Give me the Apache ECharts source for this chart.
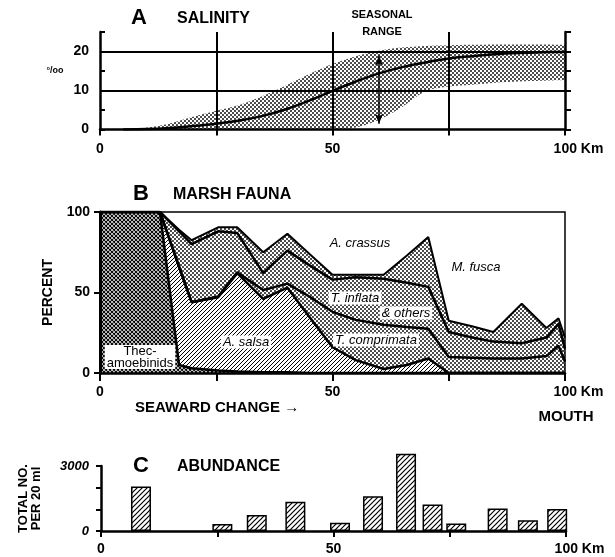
<!DOCTYPE html>
<html>
<head>
<meta charset="utf-8">
<script src="https://cdn.jsdelivr.net/npm/echarts@6/dist/echarts.min.js"></script>
<style>
html, body { margin: 0; padding: 0; background: #fff; }
#main { width: 615px; height: 557px; }
</style>
</head>
<body>
<div id="main"></div>
<script>
// A - salinity (per mille) along the estuary, km seaward
var salKm = [5, 10, 15, 20, 25, 30, 35, 40, 45, 50, 55, 60, 65, 70, 75, 80, 85, 90, 95, 100];
var salMean = [0, 0.1, 0.4, 0.9, 1.5, 2.3, 3.5, 5.2, 7.4, 9.9, 12.3, 14.4, 16, 17.2, 18.2, 18.8, 19.3, 19.6, 19.8, 19.9];
var rangeKm = [7, 13, 20, 25, 30, 35, 40, 45, 50, 55, 60, 65, 70, 75, 80, 85, 90, 95, 100];
var rangeHigh = [0, 1, 3.3, 4.8, 6.3, 8.6, 11.3, 14.2, 16.8, 18.8, 20.2, 21, 21.4, 21.6, 21.7, 21.8, 21.8, 21.8, 21.7];
var rangeLow = [0, 0, 0, 0, 0, 0, 0, 0, 0, 0.5, 2.5, 5.8, 9.8, 11, 11.5, 12, 12.3, 12.5, 12.7];
var arrowKm = 60;
var arrowEnds = [1.5, 19];
var salLines = [10, 20];
var kmLines = [25, 50, 75];

// B - marsh fauna, percent per group (bottom to top)
var faunaKm = [0, 12.9, 17, 19.7, 25.4, 29.5, 35.1, 40.3, 45, 50, 55, 61, 66, 70.6, 75, 80, 84.6, 90.7, 96, 98.6, 100];
var thec = [100, 100, 5, 3, 1.5, 1, 0.5, 0.5, 0, 0, 0, 0, 0, 0, 0, 0, 0, 0, 0, 0, 0];
var salsa = [0, 0, 61, 41, 45.5, 61, 45.5, 52.5, 35, 16, 8, 2.5, 5, 9, 0, 0, 0, 0, 0, 0, 0];
var comprimata = [0, 0, 0, 0, 0.5, 0.5, 5.5, 2.5, 12.5, 22, 25, 27.5, 23.5, 18.5, 10, 9.5, 9, 9, 10.5, 17, 7];
var inflata = [0, 0, 22, 36, 40.5, 24.5, 10.5, 20.5, 19.5, 20, 26.5, 28.5, 27.5, 26, 15.5, 12.5, 10.5, 9.5, 11.5, 13.5, 8];
var crassus = [0, 0, 1, 2.5, 2.5, 3.5, 13, 10.5, 7, 3, 1.5, 2.5, 17, 31, 7, 7, 6, 24.5, 6, 3.5, 7];
var fusca = [0, 0, 11, 17.5, 9.5, 9.5, 25, 13.5, 26, 39, 39, 39, 27, 15.5, 67.5, 71, 74.5, 57, 72, 66, 78];

// C - abundance, total no. per 20 ml
var abundKm = [8.6, 26.1, 33.5, 41.8, 51.4, 58.5, 65.6, 71.3, 76.4, 85.3, 91.8, 98.1];
var abundance = [2050, 320, 740, 1350, 380, 1600, 3560, 1220, 350, 1040, 500, 1010];

var kmTickLabels = { 0: '0', 50: '50', 100: '{end|100 Km}' };

var FONT = '"Liberation Sans", Arial, sans-serif';

function tile(size, paint) {
  var c = document.createElement('canvas');
  c.width = size;
  c.height = size;
  paint(c.getContext('2d'), size);
  return { image: c, repeat: 'repeat' };
}
var dots = tile(4, function (g) {
  g.fillStyle = '#000';
  g.beginPath(); g.arc(1, 1, 0.95, 0, Math.PI * 2); g.fill();
  g.beginPath(); g.arc(3, 3, 0.95, 0, Math.PI * 2); g.fill();
});
function diag(g, s) {
  g.moveTo(0, s); g.lineTo(s, 0);
  g.moveTo(-1, 1); g.lineTo(1, -1);
  g.moveTo(s - 1, s + 1); g.lineTo(s + 1, s - 1);
}
function hatch(size, width) {
  return tile(size, function (g, s) {
    g.fillStyle = '#fff'; g.fillRect(0, 0, s, s);
    g.strokeStyle = '#000'; g.lineWidth = width;
    g.beginPath(); diag(g, s); g.stroke();
  });
}
var cross = tile(4, function (g, s) {
  g.fillStyle = '#fff'; g.fillRect(0, 0, s, s);
  g.strokeStyle = '#000'; g.lineWidth = 1.1;
  g.beginPath();
  diag(g, s);
  g.moveTo(0, 0); g.lineTo(s, s);
  g.moveTo(-1, s - 1); g.lineTo(1, s + 1);
  g.moveTo(s - 1, -1); g.lineTo(s + 1, 1);
  g.stroke();
});

function pairs(xs, ys) {
  return xs.map(function (x, i) { return [x, ys[i]]; });
}

// running totals: top edge of each fauna group
var layers = [thec, salsa, comprimata, inflata, crassus, fusca];
var tops = [];
layers.forEach(function (arr, j) {
  tops.push(arr.map(function (v, i) { return v + (j ? tops[j - 1][i] : 0); }));
});

var labelStyle = { color: '#000', fontFamily: FONT, fontWeight: 'bold', fontSize: 14 };

function kmAxis(grid, margin, tickLen) {
  return {
    gridIndex: grid, type: 'value', min: 0, max: 100, interval: 25, z: 6,
    axisLine: { lineStyle: { color: '#000', width: 2.5 } },
    axisTick: { length: tickLen, lineStyle: { color: '#000', width: 2 } },
    axisLabel: Object.assign({
      margin: margin,
      formatter: function (v) { return kmTickLabels[v] || ''; },
      rich: { end: { padding: [0, 0, 0, 27], fontFamily: FONT, fontWeight: 'bold', fontSize: 14 } }
    }, labelStyle),
    splitLine: { show: false }
  };
}

function faunaEdge(name, values, fill, lineW, z) {
  return {
    name: name, type: 'line', xAxisIndex: 1, yAxisIndex: 2, z: z,
    data: pairs(faunaKm, values), symbol: 'none', silent: true,
    lineStyle: { color: '#000', width: lineW },
    areaStyle: fill ? { color: fill, opacity: 1 } : null
  };
}

function txt(x, y, text, font, extra) {
  return {
    type: 'text', x: x, y: y, silent: true, z: 20,
    style: Object.assign({
      text: text, font: font, fill: '#000', align: 'center', verticalAlign: 'middle'
    }, extra || {})
  };
}
var italic = 'italic 13px ' + FONT;
var boxed = { backgroundColor: '#fff', padding: [0, 2] };

var option = {
  animation: false,
  backgroundColor: '#fff',
  grid: [
    { left: 100, top: 32, width: 465, height: 97.5 },
    { left: 100, top: 212, width: 465, height: 161, show: true, borderColor: '#000', borderWidth: 1.5 },
    { left: 101, top: 466, width: 465, height: 65 }
  ],
  xAxis: [kmAxis(0, 13, 6), kmAxis(1, 12, 8), kmAxis(2, 11, 6)],
  yAxis: [
    {
      gridIndex: 0, type: 'value', min: 0, max: 25, interval: 5, z: 6,
      axisLine: { show: true, lineStyle: { color: '#000', width: 2.5 } },
      axisTick: { inside: true, length: 5, lineStyle: { color: '#000', width: 2 } },
      axisLabel: Object.assign({ margin: 11, formatter: function (v) { return v % 10 === 0 ? v : ''; } }, labelStyle),
      splitLine: { show: false }
    },
    {
      gridIndex: 0, type: 'value', min: 0, max: 25, interval: 5, position: 'right', z: 6,
      axisLine: { show: true, lineStyle: { color: '#000', width: 2.5 } },
      axisTick: { length: 6, lineStyle: { color: '#000', width: 2 } },
      axisLabel: { show: false },
      splitLine: { show: false }
    },
    {
      gridIndex: 1, type: 'value', min: 0, max: 100, interval: 50, z: 6,
      name: 'PERCENT', nameLocation: 'middle', nameGap: 45, nameRotate: 90,
      nameTextStyle: { color: '#000', fontFamily: FONT, fontWeight: 'bold', fontSize: 14 },
      axisLine: { show: true, lineStyle: { color: '#000', width: 3 } },
      axisTick: { length: 6, lineStyle: { color: '#000', width: 2 } },
      axisLabel: Object.assign({ margin: 10 }, labelStyle),
      splitLine: { show: false }
    },
    {
      gridIndex: 2, type: 'value', min: 0, max: 3000, interval: 1000, z: 6,
      name: 'TOTAL NO.\nPER 20 ml', nameLocation: 'middle', nameGap: 58, nameRotate: 90,
      nameTextStyle: { color: '#000', fontFamily: FONT, fontWeight: 'bold', fontSize: 13, lineHeight: 13 },
      axisLine: { show: true, lineStyle: { color: '#000', width: 2.5 } },
      axisTick: { length: 5, lineStyle: { color: '#000', width: 2 } },
      axisLabel: Object.assign({ margin: 12, formatter: function (v) { return v === 0 || v === 3000 ? v : ''; } },
        labelStyle, { fontSize: 13, fontStyle: 'italic' }),
      splitLine: { show: false }
    }
  ],
  series: [
    {
      name: 'seasonal range', type: 'line', xAxisIndex: 0, yAxisIndex: 0, z: 2,
      data: pairs(rangeKm, rangeHigh), symbol: 'none', smooth: 0.3, silent: true,
      lineStyle: { width: 0, opacity: 0 },
      areaStyle: { color: dots, opacity: 1 }
    },
    {
      name: 'range low', type: 'line', xAxisIndex: 0, yAxisIndex: 0, z: 3,
      data: pairs(rangeKm, rangeLow), symbol: 'none', smooth: 0.3, silent: true,
      lineStyle: { width: 0, opacity: 0 },
      areaStyle: { color: '#fff', opacity: 1 }
    },
    {
      name: 'salinity', type: 'line', xAxisIndex: 0, yAxisIndex: 0, z: 4,
      data: pairs(salKm, salMean), symbol: 'none', smooth: 0.3, silent: true,
      lineStyle: { color: '#000', width: 2.5 },
      markLine: {
        silent: true, symbol: ['none', 'none'], label: { show: false },
        lineStyle: { color: '#000', width: 2, type: 'solid' },
        data: salLines.map(function (v) { return { yAxis: v }; })
          .concat(kmLines.map(function (v) { return { xAxis: v }; }))
      }
    },
    {
      name: 'arrow', type: 'line', xAxisIndex: 0, yAxisIndex: 0, z: 5, silent: true,
      data: [
        { value: [arrowKm, arrowEnds[1]], symbolRotate: 0 },
        { value: [arrowKm, arrowEnds[0]], symbolRotate: 180 }
      ],
      symbol: 'arrow', symbolSize: [6, 10], showSymbol: true,
      itemStyle: { color: '#000' },
      lineStyle: { color: '#000', width: 1.5 }
    },
    faunaEdge('A. crassus', tops[4], dots, 2, 2),
    faunaEdge('A. salsa', tops[1], hatch(4, 1), 2.5, 3),
    faunaEdge('Thecamoebinids', tops[0], cross, 2.5, 4),
    faunaEdge('T. comprimata', tops[2], null, 2.5, 5),
    faunaEdge('T. inflata & others', tops[3], null, 2.5, 5),
    {
      name: 'abundance', type: 'bar', xAxisIndex: 2, yAxisIndex: 3, clip: false,
      data: pairs(abundKm, abundance), barWidth: 20, silent: true,
      itemStyle: { color: hatch(5, 1.2), borderColor: '#000', borderWidth: 1.5 }
    }
  ],
  graphic: [
    txt(139, 18, 'A', 'bold 22px ' + FONT),
    txt(177, 19, 'SALINITY', 'bold 16px ' + FONT, { align: 'left' }),
    txt(382, 15, 'SEASONAL', 'bold 11px ' + FONT),
    txt(382, 32, 'RANGE', 'bold 11px ' + FONT),
    txt(55, 71, '\u00b0/oo', 'bold 9px ' + FONT),
    txt(141, 194, 'B', 'bold 22px ' + FONT),
    txt(173, 195, 'MARSH FAUNA', 'bold 16px ' + FONT, { align: 'left' }),
    txt(135, 408, 'SEAWARD CHANGE \u2192', 'bold 15px ' + FONT, { align: 'left' }),
    txt(566, 417, 'MOUTH', 'bold 15px ' + FONT),
    txt(141, 466, 'C', 'bold 22px ' + FONT),
    txt(177, 467, 'ABUNDANCE', 'bold 16px ' + FONT, { align: 'left' }),
    txt(140, 357, 'Thec-\namoebinids', '13px ' + FONT, Object.assign({ lineHeight: 12 }, boxed)),
    txt(246, 342, 'A. salsa', italic, boxed),
    txt(360, 243, 'A. crassus', italic),
    txt(476, 267, 'M. fusca', italic),
    txt(355, 298, 'T. inflata', italic, boxed),
    txt(406, 313, '& others', italic, boxed),
    txt(376, 340, 'T. comprimata', italic, boxed)
  ]
};

var chart = echarts.init(document.getElementById('main'));
chart.setOption(option);
</script>
</body>
</html>
